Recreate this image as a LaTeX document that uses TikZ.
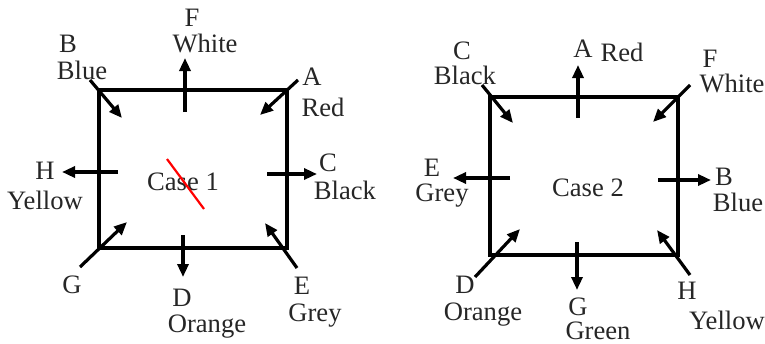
\documentclass[tikz,border=0pt]{standalone}
\usepackage{fontspec}
\setmainfont{Liberation Serif}
\usetikzlibrary{arrows.meta}

\begin{document}
\begin{tikzpicture}[
  x=0.5pt, y=-0.5pt,
  >={Triangle[length=6.5pt,width=5.5pt]},
  wall/.style={line width=1.6pt, black},
  flow/.style={line width=1.6pt, ->},
  lbl/.style={font=\fontsize{13.3}{15}\selectfont, text=black!85, inner sep=0pt}
]
\useasboundingbox (0,0) rectangle (765,343);

% Case 1: box and crossed-out title
\draw[wall] (99,90) rectangle (287,248);
\node[lbl] (case1) at (183,182) {Case 1};
\draw[red, line width=1.1pt] (167,159) -- (204,209);

% Case 1: arrow ends
\coordinate (F1s) at (185,112); \coordinate (F1e) at (185,58);
\coordinate (B1s) at (90,80);   \coordinate (B1e) at (122,118);
\coordinate (A1s) at (298,80);  \coordinate (A1e) at (260,115);
\coordinate (H1s) at (118,172); \coordinate (H1e) at (62,172);
\coordinate (C1s) at (267,174); \coordinate (C1e) at (317,174);
\coordinate (G1s) at (80,267);  \coordinate (G1e) at (127,222);
\coordinate (E1s) at (297,268); \coordinate (E1e) at (265,223);
\coordinate (D1s) at (183,235); \coordinate (D1e) at (183,277);
\foreach \k in {F1,B1,A1,H1,C1,G1,E1,D1}
  \draw[flow] (\k s) -- (\k e);

% Case 1: labels
\node[lbl] (F1) at (192,18) {F};   \node[lbl] (F1c) at (205,43) {White};
\node[lbl] (B1) at (68,44) {B};    \node[lbl] (B1c) at (82,70) {Blue};
\node[lbl] (A1) at (312,77) {A};   \node[lbl] (A1c) at (323,107) {Red};
\node[lbl] (H1) at (45,171) {H};   \node[lbl] (H1c) at (45,200) {Yellow};
\node[lbl] (C1) at (328,163) {C};  \node[lbl] (C1c) at (345,190) {Black};
\node[lbl] (G1) at (72,285) {G};
\node[lbl] (D1) at (182,298) {D};  \node[lbl] (D1c) at (207,327) {Orange};
\node[lbl] (E1) at (302,286) {E};  \node[lbl] (E1c) at (315,316) {Grey};

% Case 2: box and title
\draw[wall] (490,97) rectangle (678,255);
\node[lbl] (case2) at (588,188) {Case 2};

% Case 2: arrow ends
\coordinate (A2s) at (578,118); \coordinate (A2e) at (578,65);
\coordinate (C2s) at (482,85);  \coordinate (C2e) at (513,123);
\coordinate (F2s) at (690,85);  \coordinate (F2e) at (653,122);
\coordinate (E2s) at (510,178); \coordinate (E2e) at (453,178);
\coordinate (B2s) at (658,180); \coordinate (B2e) at (711,180);
\coordinate (D2s) at (475,277); \coordinate (D2e) at (520,229);
\coordinate (H2s) at (690,275); \coordinate (H2e) at (657,230);
\coordinate (G2s) at (577,242); \coordinate (G2e) at (577,290);
\foreach \k in {A2,C2,F2,E2,B2,D2,H2,G2}
  \draw[flow] (\k s) -- (\k e);

% Case 2: labels
\node[lbl] (A2) at (583,49) {A};   \node[lbl] (A2c) at (622,52) {Red};
\node[lbl] (C2) at (462,51) {C};   \node[lbl] (C2c) at (465,75) {Black};
\node[lbl] (F2) at (710,59) {F};   \node[lbl] (F2c) at (732,83) {White};
\node[lbl] (E2) at (432,168) {E};  \node[lbl] (E2c) at (442,196) {Grey};
\node[lbl] (B2) at (724,177) {B};  \node[lbl] (B2c) at (738,202) {Blue};
\node[lbl] (D2) at (465,285) {D};  \node[lbl] (D2c) at (483,315) {Orange};
\node[lbl] (H2) at (687,291) {H};  \node[lbl] (H2c) at (727,320) {Yellow};
\node[lbl] (G2) at (578,307) {G};  \node[lbl] (G2c) at (598,331) {Green};

\end{tikzpicture}
\end{document}
